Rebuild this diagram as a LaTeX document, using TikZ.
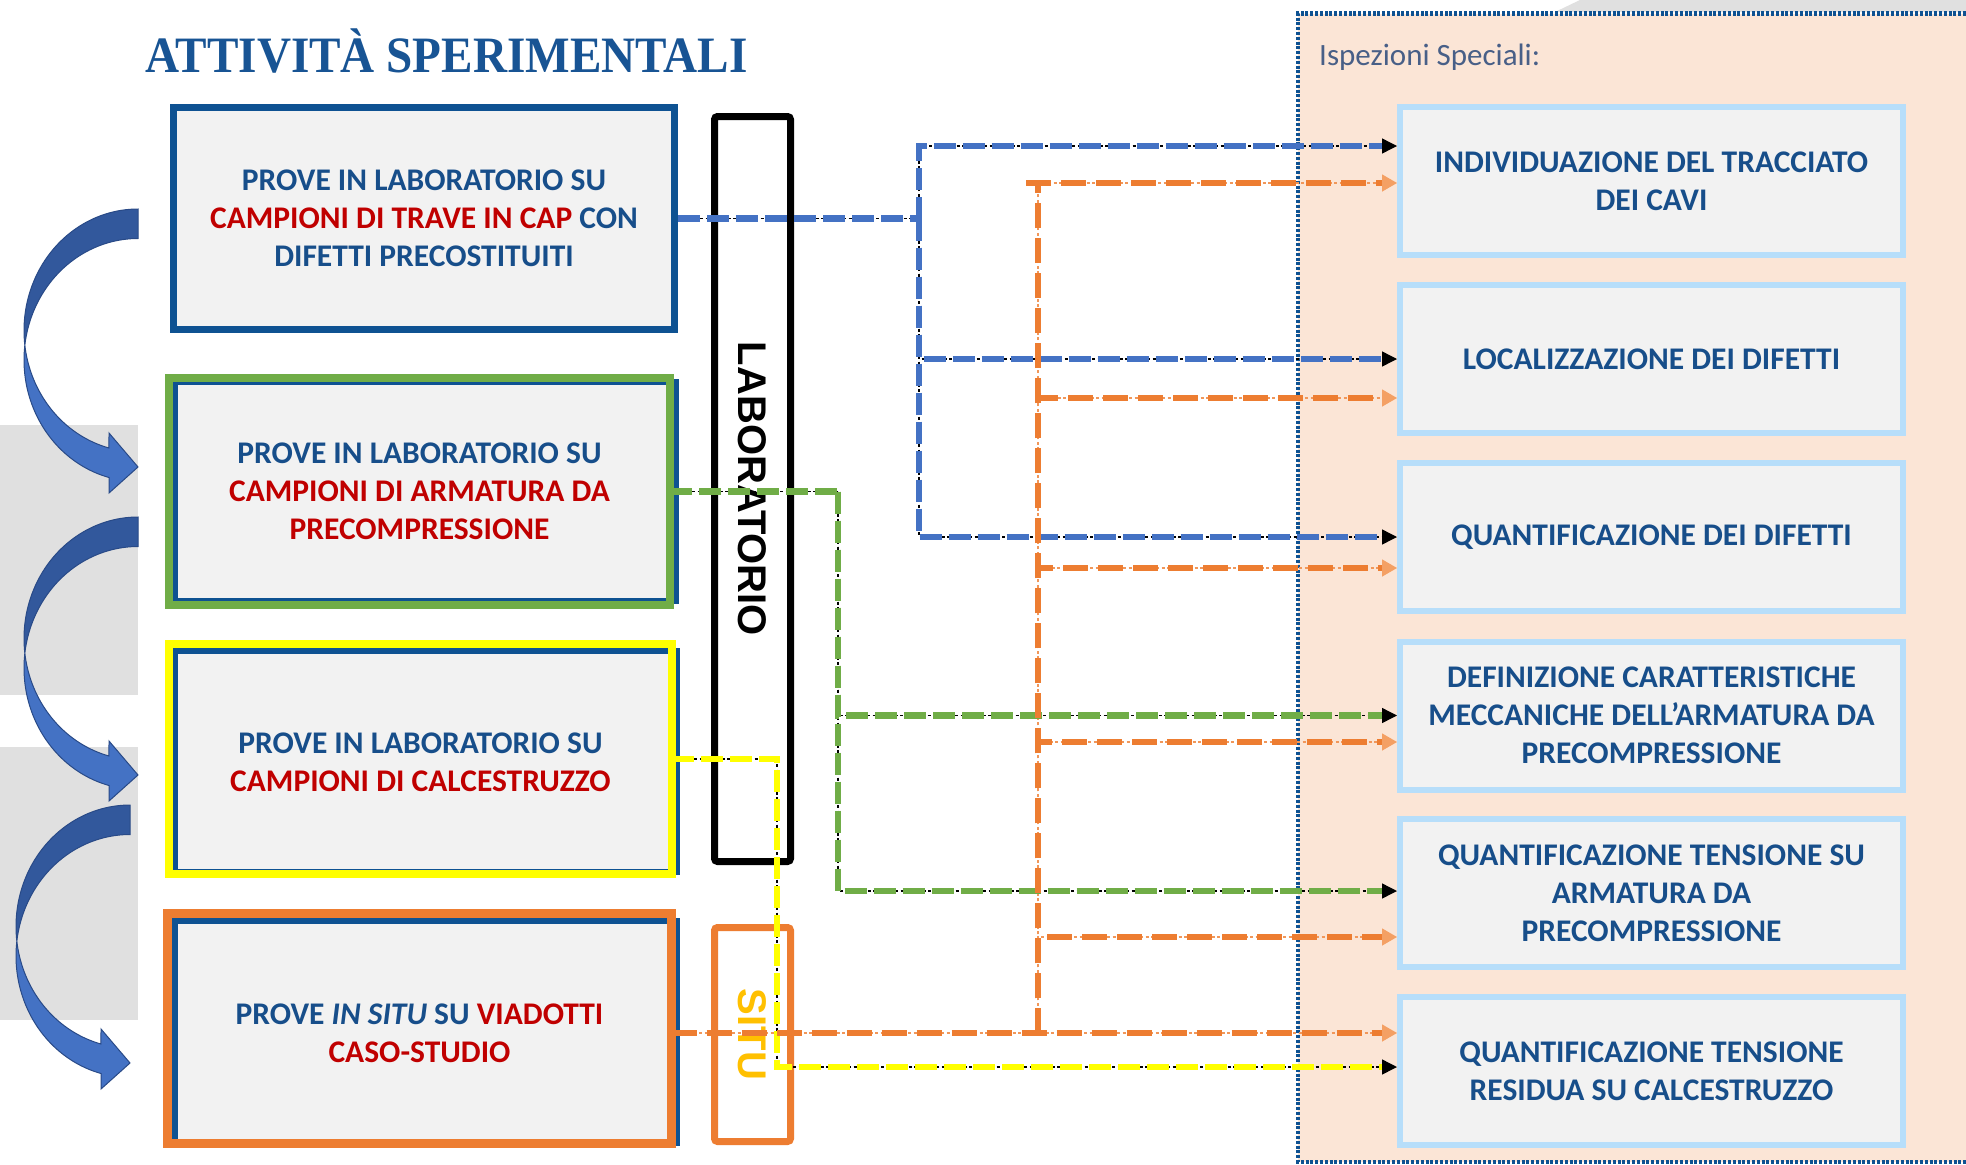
\documentclass[tikz,border=0pt]{standalone}
\usepackage{fontspec}
\setmainfont{Carlito}
\newfontfamily\titlefont{Liberation Serif}
\newfontfamily\labfont{Liberation Sans}
\usepackage{graphicx}
\usetikzlibrary{arrows.meta}

\definecolor{boxfill}{RGB}{242,242,242}
\definecolor{bdark}{RGB}{14,82,146}
\definecolor{tb}{RGB}{23,78,138}
\definecolor{tr}{RGB}{192,0,0}
\definecolor{cgreen}{RGB}{112,173,71}
\definecolor{cyellow}{RGB}{255,255,0}
\definecolor{corange}{RGB}{237,125,49}
\definecolor{cblue}{RGB}{68,114,196}
\definecolor{arrdark}{RGB}{50,88,156}
\definecolor{arrlight}{RGB}{68,114,196}
\definecolor{arrline}{RGB}{41,74,135}
\definecolor{peach}{RGB}{251,229,214}
\definecolor{lightbd}{RGB}{183,222,250}
\definecolor{graybg}{RGB}{224,224,224}
\definecolor{ispez}{RGB}{72,95,135}
\definecolor{situtext}{RGB}{255,192,0}
\definecolor{titleblue}{RGB}{24,84,148}
\definecolor{otip}{RGB}{244,160,100}

\newcommand\boxfont{\bfseries\fontsize{31.5}{38}\selectfont}
\newcommand\bendarrow[2]{%
  \filldraw[fill=arrdark, draw=arrline, line width=1pt]
    plot[domain=270:173.03, samples=60] ({#1+114*cos(\x)},{#2+121.5*sin(\x)})
    -- plot[domain=186.97:270, samples=60] ({#1+114*cos(\x)},{#2+29.5+121.5*sin(\x)})
    -- cycle;
  \filldraw[fill=arrlight, draw=arrline, line width=1pt]
    plot[domain=173.03:104.74, samples=60] ({#1+114*cos(\x)},{#2+121.5*sin(\x)})
    -- ({#1-29},{#2+102.5}) -- ({#1},{#2+136.5}) -- ({#1-29},{#2+162.5})
    -- plot[domain=104.74:186.97, samples=60] ({#1+114*cos(\x)},{#2+29.5+121.5*sin(\x)})
    -- cycle;
}

\begin{document}
\begin{tikzpicture}[x=1pt,y=-1pt,
  lbox/.style={fill=boxfill, inner sep=0pt, align=center, text=tb, font=\boxfont},
  rbox/.style={draw=lightbd, line width=6pt, fill=boxfill, minimum width=503pt,
    minimum height=148pt, inner sep=0pt, align=center, text=tb, font=\boxfont},
  vbox/.style={rotate=-90, line width=7pt, rounded corners=3pt, inner sep=0pt,
    minimum height=76pt, font=\labfont\bfseries\fontsize{40}{40}\selectfont},
  ul/.style={draw=black, line width=1.4pt, dash pattern=on 3pt off 2.5pt},
  ultip/.style={ul, -{Triangle[length=15pt,width=15pt]}},
  oul/.style={draw=corange!80, line width=1.4pt, dash pattern=on 3pt off 2.5pt},
  oultip/.style={oul, -{Triangle[length=15pt,width=17pt,color=otip]}},
  bl/.style={draw=cblue, line width=6.5pt, dash pattern=on 22pt off 7pt},
  gl/.style={draw=cgreen, line width=6.5pt, dash pattern=on 22pt off 7pt},
  yl/.style={draw=cyellow, line width=6.5pt, dash pattern=on 22pt off 7pt},
  ol/.style={draw=corange, line width=6.5pt, dash pattern=on 25pt off 10pt},
  tipgap/.style={shorten >=15pt}
]
\useasboundingbox (0,0) rectangle (1966,1165);
\clip (0,0) rectangle (1966,1165);
\fill[white] (0,0) rectangle (1966,1165);

% top-right grey and right panel
\fill[graybg] (1580,0) -- (1555,12) -- (1966,12) -- (1966,0) -- cycle;
\fill[peach] (1298,13.5) rectangle (1990,1162);
\draw[bdark, line width=4.5pt, dash pattern=on 3pt off 1.8pt]
  (1990,13.5) -- (1298,13.5) -- (1298,1162) -- (1990,1162);
\node[anchor=base west, inner sep=0pt, text=ispez, font=\fontsize{31}{31}\selectfont]
  (isp) at (1319,65) {Ispezioni Speciali:};

% left grey bands and curved arrows
\fill[graybg] (0,425) rectangle (138,695);
\fill[graybg] (0,747) rectangle (138,1020);
\bendarrow{138}{330.5}
\bendarrow{138}{638.5}
\bendarrow{130}{926.5}

% title
\node[anchor=base west, inner sep=0pt, text=titleblue,
  font=\titlefont\bfseries\fontsize{51}{51}\selectfont]
  (title) at (145,72) {\scalebox{0.925}[1]{ATTIVITÀ SPERIMENTALI}};

% left boxes
\node[lbox, draw=bdark, line width=7pt, minimum width=501pt, minimum height=222pt]
  (L1) at (424,218.5) {PROVE IN LABORATORIO SU\\{\color{tr}CAMPIONI DI TRAVE IN CAP} CON\\DIFETTI PRECOSTITUITI};

\node[lbox, minimum width=501pt, minimum height=227pt] (L2) at (419.5,491.5)
  {PROVE IN LABORATORIO SU\\{\color{tr}CAMPIONI DI ARMATURA DA}\\{\color{tr}PRECOMPRESSIONE}};
\draw[bdark, line width=6pt] (175,382) rectangle (676,601);
\draw[cgreen, line width=8pt] (L2.south west) rectangle (L2.north east);

\node[lbox, minimum width=503pt, minimum height=230pt] (L3) at (420.5,759)
  {\rule{0pt}{27pt}PROVE IN LABORATORIO SU\\{\color{tr}CAMPIONI DI CALCESTRUZZO}};
\draw[bdark, line width=6pt] (175,651) rectangle (677,872);
\draw[cyellow, line width=8pt] (L3.south west) rectangle (L3.north east);

\node[lbox, minimum width=504pt, minimum height=230pt] (L4) at (419.5,1028.5)
  {\rule{0pt}{31pt}PROVE \textit{IN SITU} SU {\color{tr}VIADOTTI}\\{\color{tr}CASO-STUDIO}};
\draw[bdark, line width=6pt] (175,921) rectangle (677,1143);
\draw[corange, line width=9pt] (L4.south west) rectangle (L4.north east);

% vertical labels
\node[vbox, draw=black, minimum width=745pt] (LAB) at (752.5,489) {LABORATORIO};
\node[vbox, draw=corange, text=situtext, minimum width=214pt] (SITU) at (752.5,1034.5) {SITU};

% right boxes
\node[rbox] (R1) at (1651.5,181) {INDIVIDUAZIONE DEL TRACCIATO\\DEI CAVI};
\node[rbox] (R2) at (1651.5,359) {LOCALIZZAZIONE DEI DIFETTI};
\node[rbox] (R3) at (1651.5,537) {QUANTIFICAZIONE DEI DIFETTI};
\node[rbox] (R4) at (1651.5,715.5) {DEFINIZIONE CARATTERISTICHE\\MECCANICHE DELL’ARMATURA DA\\PRECOMPRESSIONE};
\node[rbox] (R5) at (1651.5,893) {QUANTIFICAZIONE TENSIONE SU\\ARMATURA DA\\PRECOMPRESSIONE};
\node[rbox] (R6) at (1651.5,1071) {QUANTIFICAZIONE TENSIONE\\RESIDUA SU CALCESTRUZZO};

% junctions
\coordinate (bj) at (919,218.5);
\coordinate (gj) at (838,491.5);
\coordinate (yj) at (777,759);
\coordinate (oj) at (1038,1033);
\coordinate (ot) at (1026,183);

% underlays
\draw[ul] (L1.east) -- (bj);
\draw[ultip] (bj) |- (R1.west |- 0,146);
\draw[ultip] (bj) |- (R2.west);
\draw[ultip] (bj) |- (R3.west);
\draw[ul] (L2.east) -- (gj);
\draw[ultip] (gj) |- (R4.west);
\draw[ultip] (gj) |- (R5.west |- 0,891);
\draw[ultip] (L3.east) -- (yj) |- (R6.west |- 0,1067);
\draw[oultip] (L4.east |- oj) -- (R6.west |- oj);
\draw[oul] (oj) -- (oj |- ot);
\draw[oultip] (ot) -- (R1.west |- ot);
\draw[oultip] (oj) |- (R2.west |- 0,398);
\draw[oultip] (oj) |- (R3.west |- 0,568);
\draw[oultip] (oj) |- (R4.west |- 0,742);
\draw[oultip] (oj) |- (R5.west |- 0,937);

% coloured dashed lines
\draw[bl] (L1.east) -- (bj);
\draw[bl, tipgap] (bj) |- (R1.west |- 0,146);
\draw[bl, tipgap] (bj) |- (R2.west);
\draw[bl, tipgap] (bj) |- (R3.west);
\draw[gl] (L2.east) -- (gj);
\draw[gl, tipgap] (gj) |- (R4.west);
\draw[gl, tipgap] (gj) |- (R5.west |- 0,891);
\draw[yl, tipgap] (L3.east) -- (yj) |- (R6.west |- 0,1067);
\draw[ol, tipgap] (L4.east |- oj) -- (R6.west |- oj);
\draw[ol] (oj) -- (oj |- ot);
\draw[ol, tipgap] (ot) -- (R1.west |- ot);
\draw[ol, tipgap] (oj) |- (R2.west |- 0,398);
\draw[ol, tipgap] (oj) |- (R3.west |- 0,568);
\draw[ol, tipgap] (oj) |- (R4.west |- 0,742);
\draw[ol, tipgap] (oj) |- (R5.west |- 0,937);
\end{tikzpicture}
\end{document}
